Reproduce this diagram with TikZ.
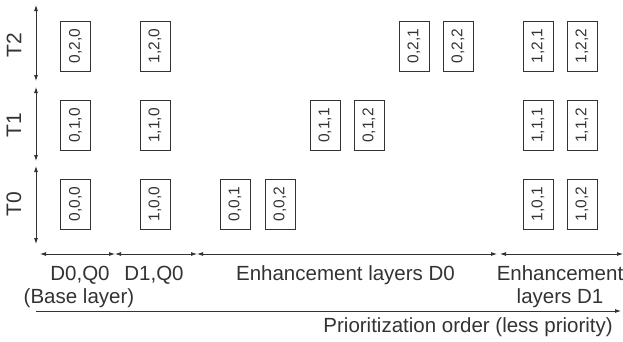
\documentclass[tikz,border=0pt]{standalone}
\usepackage{fontspec}
\setmainfont{Liberation Sans}
\usetikzlibrary{arrows.meta}
\definecolor{ink}{HTML}{333333}
\begin{document}
\begin{tikzpicture}[x=1pt,y=-1pt,
  lay/.style={draw=ink,text=ink,rotate=90,minimum width=50pt,minimum height=30pt,inner sep=0pt,font=\fontsize{15.5}{17}\selectfont,line width=0.8pt},
  tl/.style={text=ink,rotate=90,font=\fontsize{21}{23}\selectfont},
  lbl/.style={text=ink,font=\fontsize{20.5}{23}\selectfont,inner sep=0pt,anchor=base},
  dbl/.style={draw=ink,line width=0.8pt,{Latex[length=6pt,width=4pt]}-{Latex[length=6pt,width=4pt]}},
  sgl/.style={draw=ink,line width=0.8pt,-{Latex[length=6pt,width=4pt]}}]
\useasboundingbox (0,0) rectangle (623,341);
% row y: T2 46, T1 125.5, T0 204
\node[lay] (b020) at (75.5,46) {0,2,0};
\node[lay] (b120) at (155,46) {1,2,0};
\node[lay] (b021) at (414,46) {0,2,1};
\node[lay] (b022) at (458,46) {0,2,2};
\node[lay] (b121) at (538,46) {1,2,1};
\node[lay] (b122) at (582,46) {1,2,2};
\node[lay] (b010) at (75.5,125.5) {0,1,0};
\node[lay] (b110) at (155,125.5) {1,1,0};
\node[lay] (b011) at (325,125.5) {0,1,1};
\node[lay] (b012) at (369,125.5) {0,1,2};
\node[lay] (b111) at (538,125.5) {1,1,1};
\node[lay] (b112) at (582,125.5) {1,1,2};
\node[lay] (b000) at (75.5,204) {0,0,0};
\node[lay] (b100) at (155,204) {1,0,0};
\node[lay] (b001) at (235,204) {0,0,1};
\node[lay] (b002) at (280,204) {0,0,2};
\node[lay] (b101) at (538,204) {1,0,1};
\node[lay] (b102) at (582,204) {1,0,2};
% T axis
\coordinate (t2a) at (36,5);
\coordinate (t2b) at (36,81);
\coordinate (t1a) at (36,87);
\coordinate (t1b) at (36,161);
\coordinate (t0a) at (36,166);
\coordinate (t0b) at (36,244);
\draw[dbl] (t2a) -- (t2b);
\draw[dbl] (t1a) -- (t1b);
\draw[dbl] (t0a) -- (t0b);
\node[tl] (T2) at (14,45) {T2};
\node[tl] (T1) at (14,125) {T1};
\node[tl] (T0) at (14,204) {T0};
% D axis
\coordinate (h0) at (40,254);
\coordinate (h1) at (115,254);
\coordinate (h2) at (197,254);
\coordinate (h3) at (497,254);
\coordinate (h3b) at (500,254);
\coordinate (h4) at (623,254);
\draw[dbl] (h0) -- (h1);
\draw[dbl] (h1) -- (h2);
\draw[dbl] (h2) -- (h3);
\draw[dbl] (h3b) -- (h4);
\node[lbl] (l1) at (80,280) {D0,Q0};
\node[lbl] (l1b) at (79,303) {(Base layer)};
\node[lbl] (l2) at (154,280) {D1,Q0};
\node[lbl] (l3) at (345.5,280) {Enhancement layers D0};
\node[lbl] (l4) at (560,280) {Enhancement};
\node[lbl] (l4b) at (560,303) {layers D1};
% priority
\coordinate (p0) at (36,311);
\coordinate (p1) at (621,311);
\draw[sgl] (p0) -- (p1);
\node[lbl,anchor=base east] (pr) at (613,332) {Prioritization order (less priority)};
\end{tikzpicture}
\end{document}
